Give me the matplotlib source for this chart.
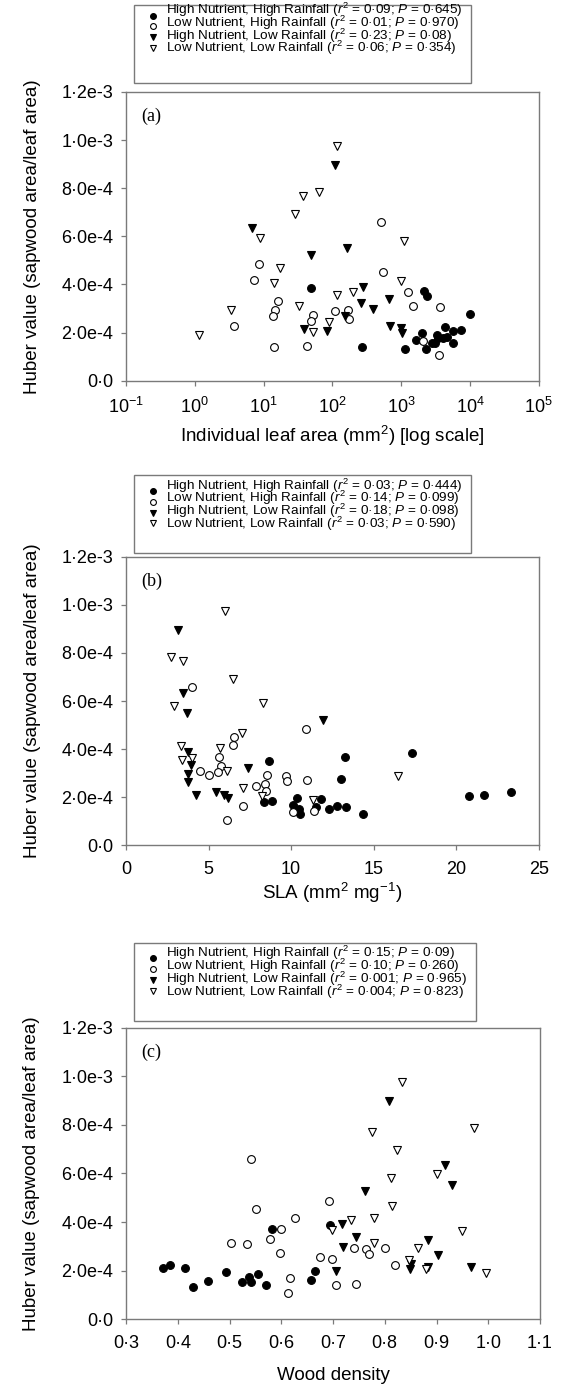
import matplotlib
matplotlib.use("Agg")
import matplotlib.pyplot as plt
from matplotlib.lines import Line2D
from matplotlib.patches import Rectangle
from matplotlib.ticker import FixedLocator, NullLocator

plt.rcParams['font.family'] = ['Liberation Sans', 'DejaVu Sans']
plt.rcParams['mathtext.fontset'] = 'custom'
plt.rcParams['mathtext.rm'] = 'Liberation Sans'
plt.rcParams['mathtext.it'] = 'Liberation Sans:italic'
plt.rcParams['mathtext.bf'] = 'Liberation Sans:bold'

# ---- données ----
# (a) surface foliaire individuelle (mm2), échelle log
a_hh_x = [49, 2170, 2340, 9900, 270, 1140, 1660, 2000, 2290, 2770, 3100, 3350, 3470, 4000, 4380, 4580, 5730, 7400, 5730]
a_hh_y = [3.84e-4, 3.71e-4, 3.53e-4, 2.76e-4, 1.40e-4, 1.32e-4, 1.69e-4, 1.97e-4, 1.32e-4, 1.58e-4, 1.55e-4,
          1.91e-4, 1.79e-4, 1.76e-4, 2.23e-4, 1.82e-4, 2.08e-4, 2.11e-4, 1.55e-4]
a_lh_x = [504, 543, 8.6, 7.2, 1240, 1470, 3660, 16.2, 14.7, 13.8, 51.6, 48.3, 110, 169, 172, 3.76, 14.3, 43.3, 2050, 3510]
a_lh_y = [6.61e-4, 4.52e-4, 4.85e-4, 4.18e-4, 3.70e-4, 3.10e-4, 3.06e-4, 3.31e-4, 2.92e-4, 2.67e-4, 2.73e-4,
          2.49e-4, 2.91e-4, 2.92e-4, 2.58e-4, 2.26e-4, 1.40e-4, 1.44e-4, 1.65e-4, 1.08e-4]
a_hl_x = [109, 6.86, 48.9, 161, 275, 260, 673, 385, 154, 38.6, 84, 679, 993, 1016]
a_hl_y = [8.97e-4, 6.33e-4, 5.22e-4, 5.50e-4, 3.91e-4, 3.24e-4, 3.38e-4, 2.98e-4, 2.67e-4, 2.15e-4, 2.05e-4,
          2.27e-4, 2.18e-4, 1.97e-4]
a_ll_x = [115, 37, 64, 28.6, 8.9, 1110, 17.3, 14.3, 993, 118, 201, 3.32, 32.4, 89, 52, 1.14]
a_ll_y = [9.77e-4, 7.68e-4, 7.84e-4, 6.93e-4, 5.92e-4, 5.79e-4, 4.67e-4, 4.07e-4, 4.16e-4, 3.56e-4, 3.67e-4,
          2.92e-4, 3.10e-4, 2.42e-4, 2.04e-4, 1.90e-4]

# (b) SLA
b_hh_x = [17.33, 13.29, 8.69, 13.05, 8.38, 8.87, 10.34, 10.14, 10.51, 10.55, 11.52, 11.82, 12.28, 12.79, 13.33,
          14.38, 20.75, 21.68, 23.31]
b_hh_y = [3.84e-4, 3.69e-4, 3.52e-4, 2.76e-4, 1.80e-4, 1.83e-4, 1.95e-4, 1.69e-4, 1.52e-4, 1.30e-4, 1.61e-4,
          1.93e-4, 1.52e-4, 1.65e-4, 1.59e-4, 1.30e-4, 2.06e-4, 2.08e-4, 2.22e-4]
b_lh_x = [3.98, 10.93, 6.53, 6.51, 5.62, 5.78, 4.46, 5.56, 5.05, 8.53, 9.70, 9.74, 8.40, 10.95, 7.90, 8.51, 7.09,
          6.10, 10.14, 11.41]
b_lh_y = [6.58e-4, 4.84e-4, 4.52e-4, 4.16e-4, 3.69e-4, 3.30e-4, 3.10e-4, 3.05e-4, 2.91e-4, 2.91e-4, 2.88e-4,
          2.66e-4, 2.56e-4, 2.72e-4, 2.47e-4, 2.24e-4, 1.62e-4, 1.05e-4, 1.39e-4, 1.41e-4]
b_hl_x = [3.13, 3.45, 3.70, 11.92, 3.78, 3.94, 3.76, 3.78, 7.37, 4.26, 5.45, 5.96, 6.20]
b_hl_y = [8.95e-4, 6.32e-4, 5.49e-4, 5.21e-4, 3.89e-4, 3.34e-4, 2.95e-4, 2.65e-4, 3.21e-4, 2.11e-4, 2.23e-4,
          2.09e-4, 1.98e-4]
b_ll_x = [6.02, 2.71, 3.47, 6.46, 8.28, 2.93, 7.01, 3.33, 5.72, 3.39, 4.00, 6.14, 7.09, 8.24, 11.35, 16.46]
b_ll_y = [9.76e-4, 7.84e-4, 7.66e-4, 6.91e-4, 5.90e-4, 5.79e-4, 4.66e-4, 4.14e-4, 4.03e-4, 3.55e-4, 3.62e-4,
          3.10e-4, 2.38e-4, 2.04e-4, 1.88e-4, 2.90e-4]

# (c) densité du bois
c_hh_x = [0.582, 0.694, 0.372, 0.385, 0.414, 0.430, 0.459, 0.493, 0.524, 0.538, 0.541, 0.556, 0.571, 0.657, 0.665]
c_hh_y = [3.71e-4, 3.86e-4, 2.10e-4, 2.24e-4, 2.09e-4, 1.33e-4, 1.58e-4, 1.95e-4, 1.55e-4, 1.73e-4, 1.55e-4,
          1.87e-4, 1.40e-4, 1.61e-4, 1.97e-4]
c_lh_x = [0.542, 0.551, 0.692, 0.627, 0.599, 0.578, 0.502, 0.533, 0.597, 0.740, 0.764, 0.801, 0.769, 0.674, 0.699,
          0.820, 0.617, 0.705, 0.745, 0.614]
c_lh_y = [6.61e-4, 4.52e-4, 4.85e-4, 4.18e-4, 3.71e-4, 3.31e-4, 3.12e-4, 3.08e-4, 2.74e-4, 2.93e-4, 2.90e-4,
          2.93e-4, 2.69e-4, 2.58e-4, 2.50e-4, 2.25e-4, 1.68e-4, 1.40e-4, 1.44e-4, 1.09e-4]
c_hl_x = [0.808, 0.916, 0.929, 0.761, 0.718, 0.745, 0.720, 0.884, 0.902, 0.851, 0.848, 0.884, 0.966, 0.706]
c_hl_y = [8.98e-4, 6.36e-4, 5.53e-4, 5.26e-4, 3.92e-4, 3.38e-4, 2.98e-4, 3.26e-4, 2.65e-4, 2.28e-4, 2.05e-4,
          2.17e-4, 2.16e-4, 1.97e-4]
c_ll_x = [0.833, 0.776, 0.972, 0.824, 0.812, 0.900, 0.814, 0.734, 0.779, 0.698, 0.949, 0.780, 0.864, 0.846, 0.880,
          0.995]
c_ll_y = [9.77e-4, 7.70e-4, 7.88e-4, 6.96e-4, 5.80e-4, 5.97e-4, 4.67e-4, 4.08e-4, 4.18e-4, 3.68e-4, 3.62e-4,
          3.12e-4, 2.94e-4, 2.45e-4, 2.08e-4, 1.92e-4]

groupes = ["High Nutrient, High Rainfall", "Low Nutrient, High Rainfall",
           "High Nutrient, Low Rainfall", "Low Nutrient, Low Rainfall"]
stats_a = [("0·09", "0·645"), ("0·01", "0·970"), ("0·23", "0·08"), ("0·06", "0·354")]
stats_b = [("0·03", "0·444"), ("0·14", "0·099"), ("0·18", "0·098"), ("0·03", "0·590")]
stats_c = [("0·15", "0·09"), ("0·10", "0·260"), ("0·001", "0·965"), ("0·004", "0·823")]

y_ticks = [0, 2e-4, 4e-4, 6e-4, 8e-4, 1e-3, 1.2e-3]
y_labels = ["0·0", "2·0e-4", "4·0e-4", "6·0e-4", "8·0e-4", "1·0e-3", "1·2e-3"]
b_ticks = [0, 5, 10, 15, 20, 25]
c_ticks = [0.3, 0.4, 0.5, 0.6, 0.7, 0.8, 0.9, 1.0, 1.1]
c_labels = ["0·3", "0·4", "0·5", "0·6", "0·7", "0·8", "0·9", "1·0", "1·1"]

styles = [('o', 'black'), ('o', 'white'), ('v', 'black'), ('v', 'white')]
GRIS = '#7a7a7a'
FS_LEG = 9.7

W, H = 565, 1388
fig = plt.figure(figsize=(W / 100, H / 100), dpi=100)
rend = fig.canvas.get_renderer()


def faire_axe(top, bottom, right=538.7, left=126):
    return fig.add_axes([left / W, 1 - bottom / H, (right - left) / W, (bottom - top) / H])


def tracer(ax, series, lettre):
    for (x, y), (mk, fc) in zip(series, styles):
        ax.plot(x, y, ls='none', marker=mk, ms=5.6, mfc=fc, mec='black', mew=0.8)
    ax.set_ylim(0, 1.2e-3)
    ax.set_yticks(y_ticks)
    ax.set_yticklabels(y_labels)
    for sp in ax.spines.values():
        sp.set_color(GRIS)
        sp.set_linewidth(1.0)
    ax.tick_params(axis='both', direction='out', length=3.6, width=0.9, color=GRIS, labelsize=13)
    ax.tick_params(axis='y', pad=5.5)
    ax.tick_params(axis='x', pad=8)
    ax.set_ylabel("Huber value (sapwood area/leaf area)", fontsize=13.5)
    ax.yaxis.set_label_coords(-0.207, 0.5)
    ax.text(0.038, 0.945, lettre, transform=ax.transAxes, ha='left', va='top',
            fontsize=13, family='Liberation Serif')


def hauteur(s, ls):
    t = fig.text(0, 0, s, fontsize=FS_LEG, linespacing=ls)
    h = t.get_window_extent(rend).height
    t.remove()
    return h


def legende(stats, box_top, box_bottom, lignes):
    labs = [nom + r" ($r^2$ = " + r2 + r"; $P$ = " + p + ")" for (r2, p), nom in zip(stats, groupes)]
    # interligne réglé pour retrouver l'écart des lignes de la figure
    pas = hauteur(labs[0] + "\n" + labs[1], 1.0) - hauteur(labs[1], 1.0)
    ls = (lignes[1] - lignes[0]) / pas
    for (mk, fc), yl in zip(styles, lignes):
        fig.add_artist(Line2D([153 / W], [1 - yl / H], marker=mk, ms=4.2, mfc=fc, mec='black', mew=0.8,
                              ls='none', transform=fig.transFigure))
    t = fig.text(166 / W, 1 - (lignes[-1] + 4.7) / H, "\n".join(labs), fontsize=FS_LEG,
                 va='baseline', ha='left', linespacing=ls)
    droite = t.get_window_extent(rend).x1 + 9
    fig.add_artist(Rectangle((134.3 / W, 1 - box_bottom / H), (droite - 134.3) / W, (box_bottom - box_top) / H,
                             transform=fig.transFigure, fill=False, ec=GRIS, lw=1.0))


# (a)
ax1 = faire_axe(92, 380.7)
tracer(ax1, [(a_hh_x, a_hh_y), (a_lh_x, a_lh_y), (a_hl_x, a_hl_y), (a_ll_x, a_ll_y)], "(a)")
ax1.set_xscale('log')
ax1.set_xlim(0.1, 1e5)
ax1.xaxis.set_major_locator(FixedLocator([0.1, 1, 10, 100, 1e3, 1e4, 1e5]))
ax1.xaxis.set_minor_locator(NullLocator())
ax1.set_xlabel("Individual leaf area (mm$^2$) [log scale]", fontsize=13.5)
ax1.xaxis.set_label_coords(0.5, -0.19)
ax1.xaxis.label.set_va('center')
legende(stats_a, 5, 83.3, [15.7, 26.3, 37, 47.7])

# (b)
ax2 = faire_axe(556.7, 845.3)
tracer(ax2, [(b_hh_x, b_hh_y), (b_lh_x, b_lh_y), (b_hl_x, b_hl_y), (b_ll_x, b_ll_y)], "(b)")
ax2.set_xlim(0, 25)
ax2.set_xticks(b_ticks)
ax2.set_xlabel("SLA (mm$^2$ mg$^{-1}$)", fontsize=13.5)
ax2.xaxis.set_label_coords(0.5, -0.165)
ax2.xaxis.label.set_va('center')
legende(stats_b, 475, 553.3, [491.3, 502, 512.7, 523.3])

# (c)
ax3 = faire_axe(1027.5, 1319.3, right=540)
tracer(ax3, [(c_hh_x, c_hh_y), (c_lh_x, c_lh_y), (c_hl_x, c_hl_y), (c_ll_x, c_ll_y)], "(c)")
ax3.set_xlim(0.3, 1.1)
ax3.set_xticks(c_ticks)
ax3.set_xticklabels(c_labels)
ax3.set_xlabel("Wood density", fontsize=13.5)
ax3.xaxis.set_label_coords(0.5, -0.194)
ax3.xaxis.label.set_va('center')
legende(stats_c, 943, 1020.7, [958, 968.7, 980, 991])

fig.savefig("out.png", dpi=100)
